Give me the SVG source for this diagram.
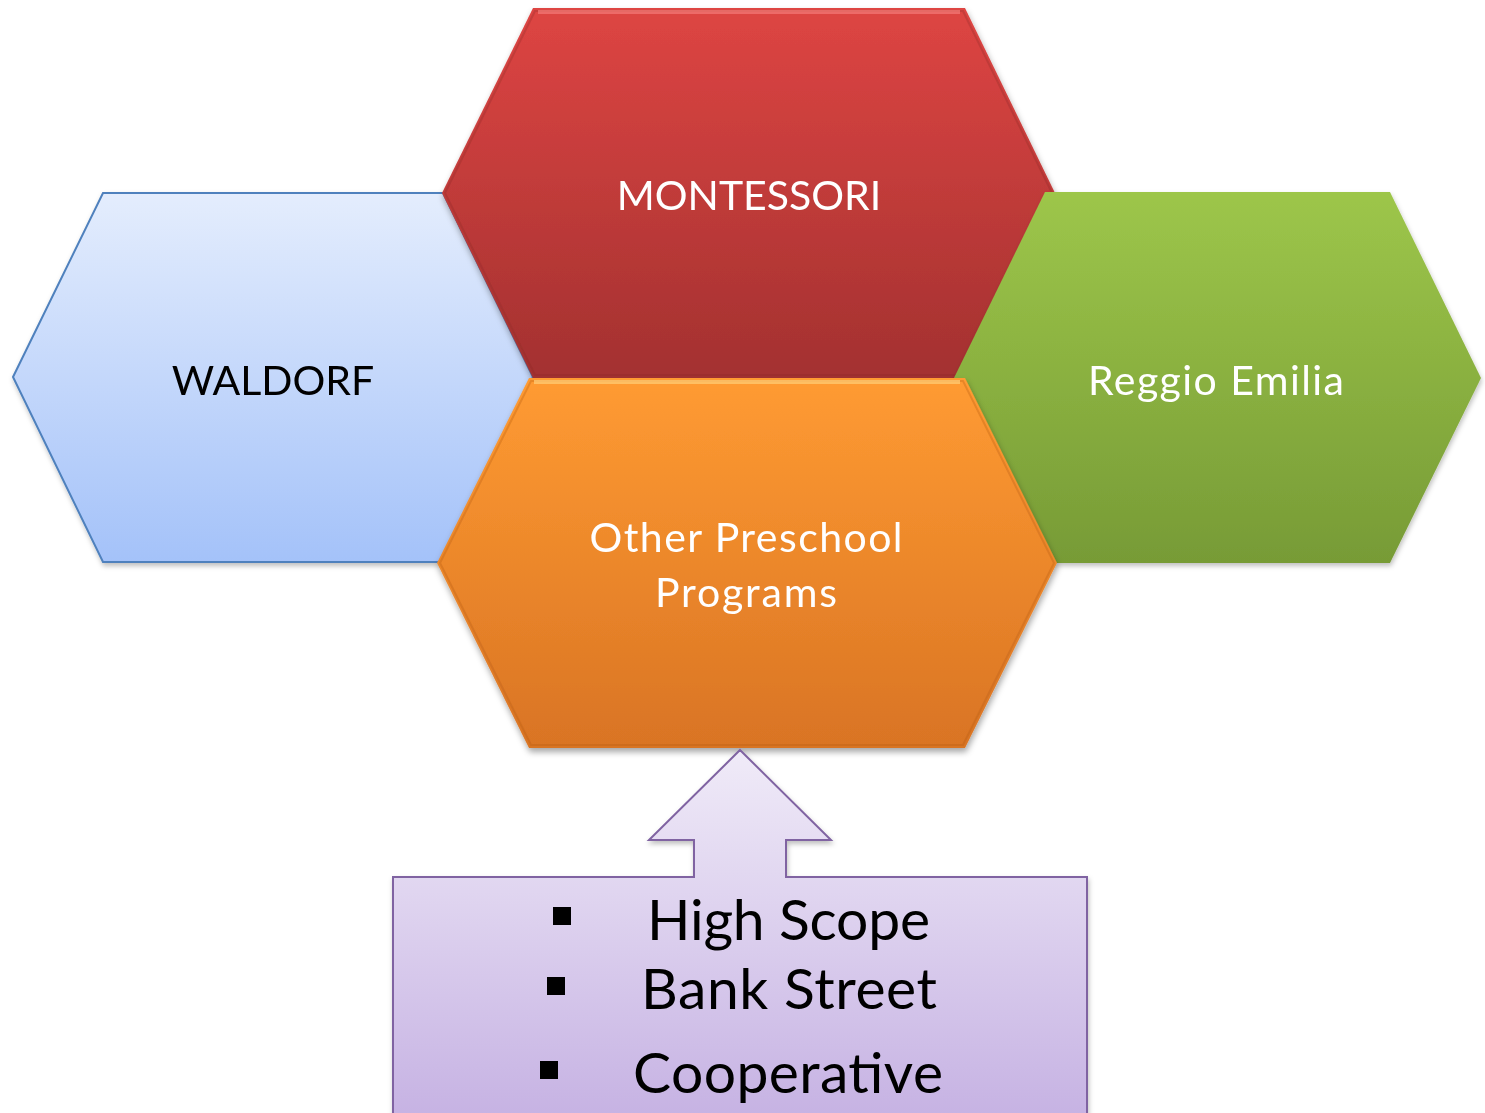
<svg xmlns="http://www.w3.org/2000/svg" width="1485" height="1113" viewBox="0 0 1485 1113">
<style>
.lbl{font-family:Lato,"Open Sans","Liberation Sans",sans-serif;font-size:41px;text-anchor:middle}
.white{fill:#FFFFFF}
.black{fill:#000000}
.item{font-family:Lato,"Open Sans","Liberation Sans",sans-serif;font-size:57px;fill:#000000}
.bevel{fill:none;stroke-linejoin:miter}
</style>
<defs>
<linearGradient id="gBlue" x1="0" y1="0" x2="0" y2="1"><stop offset="0" stop-color="#E4EDFD"/><stop offset="1" stop-color="#A4C2F9"/></linearGradient>
<linearGradient id="gRed" x1="0" y1="0" x2="0" y2="1"><stop offset="0" stop-color="#DE4543"/><stop offset="1" stop-color="#A33130"/></linearGradient>
<linearGradient id="gGreen" x1="0" y1="0" x2="0" y2="1"><stop offset="0" stop-color="#9DC64A"/><stop offset="1" stop-color="#779B36"/></linearGradient>
<linearGradient id="gOrange" x1="0" y1="0" x2="0" y2="1"><stop offset="0" stop-color="#FF9B32"/><stop offset="1" stop-color="#D97424"/></linearGradient>
<linearGradient id="gPurple" x1="0" y1="0" x2="0" y2="1"><stop offset="0" stop-color="#F0EBF8"/><stop offset="1" stop-color="#C6B2E3"/></linearGradient>
<filter id="shadow" x="-10%" y="-10%" width="120%" height="125%"><feDropShadow dx="1" dy="4" stdDeviation="3" flood-color="#000" flood-opacity="0.35"/></filter>
<filter id="shadowLight" x="-10%" y="-10%" width="120%" height="125%"><feDropShadow dx="1" dy="3" stdDeviation="2.5" flood-color="#000" flood-opacity="0.25"/></filter>
</defs>

<g id="waldorf" filter="url(#shadowLight)">
<polygon points="13,377 103,193 443,193 533,377 443,562 103,562" fill="url(#gBlue)" stroke="#4F81BD" stroke-width="2"/>
<text class="lbl black" x="273" y="395">WALDORF</text>
</g>

<g id="montessori" filter="url(#shadow)">
<polygon points="442,193 533,8 965,8 1055,193 965,378 533,378" fill="url(#gRed)"/>
<polygon class="bevel" points="445,193 535,11 963,11 1052,193 963,375 535,375" stroke="#8E2A28" stroke-opacity="0.3" stroke-width="2"/>
<line x1="538" y1="12" x2="960" y2="12" stroke="#F47C78" stroke-width="4" stroke-opacity="0.7"/>
<text class="lbl white" x="749" y="210">MONTESSORI</text>
</g>

<g id="reggio" filter="url(#shadowLight)">
<polygon points="954,378 1045,192 1390,192 1481,378 1390,563 1045,563" fill="url(#gGreen)"/>
<text class="lbl white" x="1216" y="395" textLength="256" lengthAdjust="spacing">Reggio Emilia</text>
</g>

<g id="other" filter="url(#shadow)">
<polygon points="437,563 529,378 965,378 1057,563 965,748 529,748" fill="url(#gOrange)"/>
<polygon class="bevel" points="440,563 531,381 963,381 1054,563 963,745 531,745" stroke="#B35A14" stroke-opacity="0.3" stroke-width="2"/>
<line x1="534" y1="382" x2="960" y2="382" stroke="#FFC870" stroke-width="4" stroke-opacity="0.8"/>
<text class="lbl white" x="746" y="552" textLength="313" lengthAdjust="spacing">Other Preschool</text>
<text class="lbl white" x="746" y="607" textLength="182" lengthAdjust="spacing">Programs</text>
</g>

<g id="connectors"></g>

<g id="callout">
<polygon points="740,750 831,840 786,840 786,877 1087,877 1087,1118 393,1118 393,877 694,877 694,840 649,840" fill="url(#gPurple)" stroke="#8064A2" stroke-width="2" filter="url(#shadowLight)"/>
<rect x="553" y="907" width="18" height="18" fill="#000"/>
<rect x="547" y="977" width="18" height="18" fill="#000"/>
<rect x="540" y="1061" width="18" height="18" fill="#000"/>
<text class="item" x="647" y="940" textLength="283" lengthAdjust="spacing">High Scope</text>
<text class="item" x="641" y="1009" textLength="296" lengthAdjust="spacing">Bank Street</text>
<text class="item" x="633" y="1093" textLength="310" lengthAdjust="spacing">Cooperative</text>
</g>
</svg>
